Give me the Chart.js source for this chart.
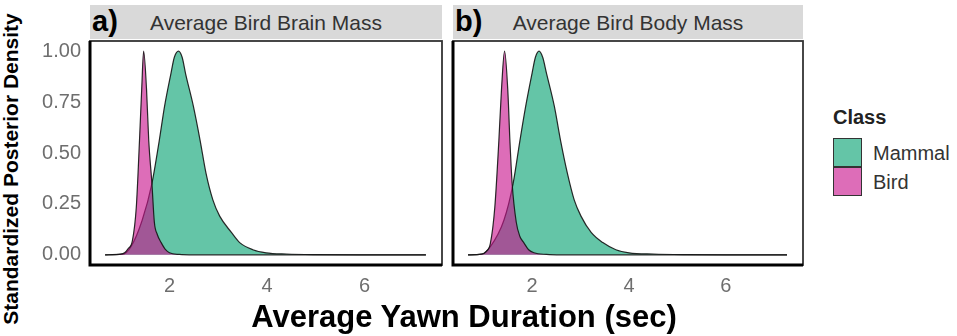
<!DOCTYPE html>
<html lang="en">

<head>
    <meta charset="UTF-8">
    <title>Yawn Duration Posterior</title>
    <script src="https://cdn.jsdelivr.net/npm/chart.js"></script>
    <style>
        body { margin: 0; background: #fff; font-family: "Liberation Sans", Arial, sans-serif; }
        #page { position: relative; width: 957px; height: 336px; overflow: hidden; }
        .box { position: absolute; }
        .strip { position: absolute; top: 5px; height: 34px; background: #d9d9d9; color: #333;
                 font-size: 21px; line-height: 35px; text-align: center; }
        .tag { position: absolute; top: 3px; font-size: 29px; font-weight: bold; color: #000; line-height: 36px; }
        .ytitle { position: absolute; left: 11px; top: 169px; transform: translate(-50%, -50%) rotate(-90deg);
                  white-space: nowrap; font-size: 21px; font-weight: bold; color: #000; }
        .xtitle { position: absolute; left: 464px; top: 317px; transform: translate(-50%, -50%);
                  white-space: nowrap; font-size: 31px; font-weight: bold; color: #000; }
        .legtitle { position: absolute; left: 833px; top: 106px; font-size: 20px; font-weight: bold; color: #222; }
        .key { position: absolute; left: 833px; width: 27px; height: 27px; border: 1.5px solid #333; }
        .keytxt { position: absolute; left: 873px; font-size: 20px; color: #333; line-height: 24px; }
    </style>
</head>

<body>
    <div id="page">
        <div class="strip" id="stripA" style="left:90px; width:352px;"></div>
        <div class="strip" id="stripB" style="left:453px; width:350px;"></div>
        <div class="tag" style="left:92px;">a)</div>
        <div class="tag" style="left:455px;">b)</div>

        <div class="box" style="left:30px; top:36px; width:417px; height:264px;">
            <canvas id="chartA"></canvas>
        </div>
        <div class="box" style="left:448px; top:36px; width:360px; height:264px;">
            <canvas id="chartB"></canvas>
        </div>

        <div class="ytitle">Standardized Posterior Density</div>
        <div class="xtitle">Average Yawn Duration (sec)</div>

        <div class="legtitle">Class</div>
        <div class="key" id="key0" style="top:138px;"></div>
        <div class="key" id="key1" style="top:167px;"></div>
        <div class="keytxt" id="keytxt0" style="top:141px;"></div>
        <div class="keytxt" id="keytxt1" style="top:170px;"></div>
    </div>
</body>
<script>
    // panels and legend
    var panelTitles = ['Average Bird Brain Mass', 'Average Bird Body Mass'];
    var classes = ['Mammal', 'Bird'];
    var xTicks = [2, 4, 6];
    var yTicks = [0, 0.25, 0.5, 0.75, 1];

    // a) brain mass
    var brainMammalX = [0.68, 1.04, 1.21, 1.44, 1.64, 1.79, 1.9, 2.03, 2.1, 2.185, 2.26, 2.33, 2.49, 2.63, 2.75, 2.89, 3.03, 3.27, 3.44, 3.71, 3.98, 4.4, 5.0, 6.0, 7.26];
    var brainMammalY = [0, 0.003, 0.04, 0.17, 0.35, 0.56, 0.73, 0.89, 0.97, 1.0, 0.97, 0.89, 0.73, 0.56, 0.40, 0.27, 0.19, 0.11, 0.06, 0.025, 0.01, 0.004, 0.001, 0, 0];
    var brainBirdX = [0.68, 1.0, 1.08, 1.15, 1.24, 1.32, 1.385, 1.43, 1.47, 1.53, 1.575, 1.64, 1.69, 1.75, 1.83, 1.92, 2.0, 2.2, 2.5, 7.26];
    var brainBirdY = [0, 0.003, 0.01, 0.03, 0.07, 0.235, 0.56, 0.81, 1.0, 0.81, 0.56, 0.35, 0.16, 0.1, 0.06, 0.025, 0.01, 0.002, 0, 0];

    // b) body mass
    var bodyMammalX = [0.68, 0.96, 1.14, 1.42, 1.61, 1.75, 1.87, 2.0, 2.07, 2.145, 2.22, 2.3, 2.46, 2.59, 2.73, 2.87, 3.01, 3.22, 3.46, 3.73, 4.0, 4.5, 5.2, 6.0, 7.26];
    var bodyMammalY = [0, 0.003, 0.04, 0.17, 0.35, 0.56, 0.73, 0.89, 0.97, 1.0, 0.97, 0.89, 0.73, 0.56, 0.40, 0.27, 0.19, 0.11, 0.06, 0.025, 0.01, 0.004, 0.001, 0, 0];
    var bodyBirdX = [0.68, 0.96, 1.05, 1.14, 1.233, 1.316, 1.37, 1.434, 1.5, 1.544, 1.59, 1.675, 1.75, 1.83, 1.93, 2.04, 2.3, 2.6, 7.26];
    var bodyBirdY = [0, 0.003, 0.015, 0.055, 0.235, 0.56, 0.81, 1.0, 0.81, 0.56, 0.35, 0.16, 0.09, 0.06, 0.025, 0.01, 0.002, 0, 0];

    var mammalFill = 'rgba(27,170,125,0.68)';
    var birdFill = 'rgba(200,20,140,0.62)';

    function toPoints(xs, ys) {
        return xs.map(function (x, i) { return { x: x, y: ys[i] }; });
    }

    // box around the panel, heavier on the axis sides
    var panelBorder = {
        id: 'panelBorder',
        afterDraw: function (chart) {
            var a = chart.chartArea, c = chart.ctx;
            c.save();
            c.strokeStyle = '#333';
            c.lineWidth = 1.8;
            c.strokeRect(a.left, a.top, a.right - a.left, a.bottom - a.top);
            c.strokeStyle = '#000';
            c.lineWidth = 3;
            c.beginPath();
            c.moveTo(a.left, a.top);
            c.lineTo(a.left, a.bottom);
            c.lineTo(a.right, a.bottom);
            c.stroke();
            c.restore();
        }
    };

    function noPad(s) {
        s.paddingTop = 0; s.paddingBottom = 0; s.paddingLeft = 0; s.paddingRight = 0;
    }

    function makePanel(id, mX, mY, bX, bY, showY) {
        return new Chart(document.getElementById(id), {
            type: 'line',
            data: {
                datasets: [{
                    label: classes[1],
                    data: toPoints(bX, bY),
                    backgroundColor: birdFill,
                    borderColor: 'rgba(20,20,20,0.9)',
                    borderWidth: 1.2,
                    fill: 'origin',
                    pointRadius: 0,
                    cubicInterpolationMode: 'monotone'
                }, {
                    label: classes[0],
                    data: toPoints(mX, mY),
                    backgroundColor: mammalFill,
                    borderColor: 'rgba(20,20,20,0.9)',
                    borderWidth: 1.2,
                    fill: 'origin',
                    pointRadius: 0,
                    cubicInterpolationMode: 'monotone'
                }]
            },
            options: {
                responsive: true,
                maintainAspectRatio: false,
                animation: false,
                layout: { padding: { left: showY ? 0 : 5, right: 5, top: 5, bottom: 0 } },
                plugins: { legend: { display: false }, tooltip: { enabled: false } },
                scales: {
                    x: {
                        type: 'linear',
                        min: 0.37,
                        max: 7.59,
                        afterBuildTicks: function (s) { s.ticks = xTicks.map(function (v) { return { value: v }; }); },
                        afterFit: function (s) { s.height = 35; noPad(s); },
                        grid: { display: false, drawTicks: false },
                        border: { display: false },
                        ticks: { padding: 9, color: '#6e6e6e', font: { family: 'Liberation Sans', size: 20 } }
                    },
                    y: {
                        display: showY,
                        min: -0.05,
                        max: 1.05,
                        afterBuildTicks: function (s) { s.ticks = yTicks.map(function (v) { return { value: v }; }); },
                        afterFit: function (s) { s.width = showY ? 60 : 0; noPad(s); },
                        grid: { display: false, drawTicks: false },
                        border: { display: false },
                        ticks: {
                            padding: 9, color: '#6e6e6e', font: { family: 'Liberation Sans', size: 20 },
                            callback: function (v) { return v.toFixed(2); }
                        }
                    }
                }
            },
            plugins: [panelBorder]
        });
    }

    document.getElementById('stripA').textContent = panelTitles[0];
    document.getElementById('stripB').textContent = panelTitles[1];
    document.getElementById('key0').style.background = mammalFill;
    document.getElementById('key1').style.background = birdFill;
    document.getElementById('keytxt0').textContent = classes[0];
    document.getElementById('keytxt1').textContent = classes[1];

    makePanel('chartA', brainMammalX, brainMammalY, brainBirdX, brainBirdY, true);
    makePanel('chartB', bodyMammalX, bodyMammalY, bodyBirdX, bodyBirdY, false);
</script>

</html>
